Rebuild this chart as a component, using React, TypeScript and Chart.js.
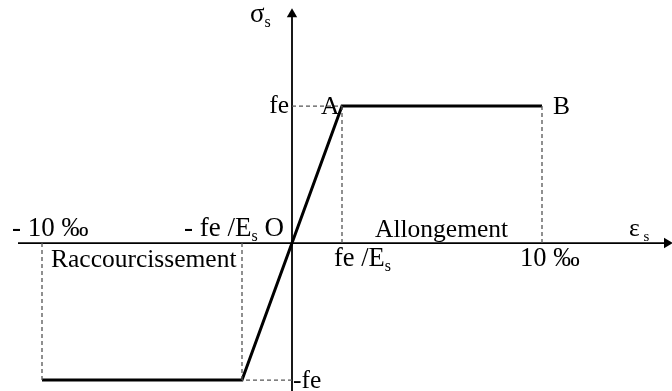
import React, { useEffect, useRef } from "react";
import { Chart, registerables } from "chart.js";

Chart.register(...registerables);

// Strain (‰) and stress (in units of fe) of the elastic–perfectly plastic steel law
const curveStrain = [-10, -2, 0, 2, 10];
const curveStress = [-1, -1, 0, 1, 1];

// dashed construction lines: verticals from the strain axis to the plateau
const guideStrain = [2, 10, -2, -10];
const guideStress = [1, 1, -1, -1];

// axes extent (data units)
const strainRange = [-11.68, 15.2];
const stressRange = [-1.08, 1.774];
const axisTips = [15.0, 1.67]; // arrow-head centres on ε and σ axes

const FONT = '"Liberation Serif", "Times New Roman", serif';

type Part = { t: string; sub?: boolean };

function drawRich(
  ctx: CanvasRenderingContext2D,
  parts: Part[],
  x: number,
  y: number,
  align: "left" | "right",
  size: number
) {
  const subSize = Math.round(size * 0.6);
  const widths = parts.map((p) => {
    ctx.font = `${p.sub ? subSize : size}px ${FONT}`;
    return ctx.measureText(p.t).width;
  });
  const total = widths.reduce((a, b) => a + b, 0);
  let cx = align === "left" ? x : x - total;
  ctx.textAlign = "left";
  ctx.textBaseline = "alphabetic";
  parts.forEach((p, i) => {
    ctx.font = `${p.sub ? subSize : size}px ${FONT}`;
    ctx.fillText(p.t, cx, p.sub ? y + Math.round(size * 0.18) : y);
    cx += widths[i];
  });
}

const labelPlugin = {
  id: "labels",
  afterDatasetsDraw(chart: any) {
    const { ctx } = chart;
    const xs = chart.scales.x;
    const ys = chart.scales.y;
    const X = (v: number) => xs.getPixelForValue(v);
    const Y = (v: number) => ys.getPixelForValue(v);
    const ox = X(0);
    const oy = Y(0);
    const S = 25.5;
    ctx.save();
    ctx.fillStyle = "#000";
    // σs
    drawRich(ctx, [{ t: "σ", }, { t: "s", sub: true }], ox - 42, Y(stressRange[1]) + 22, "left", 27);
    // fe, A, B
    drawRich(ctx, [{ t: "fe" }], ox - 3, Y(curveStress[4]) + 7, "right", S);
    drawRich(ctx, [{ t: "A" }], X(curveStrain[3]) - 21, Y(curveStress[4]) + 8, "left", S);
    drawRich(ctx, [{ t: "B" }], X(curveStrain[4]) + 11, Y(curveStress[4]) + 8, "left", S);
    // above strain axis
    drawRich(ctx, [{ t: "- 10 ‰" }], X(curveStrain[0]) - 30, oy - 7, "left", 27);
    drawRich(ctx, [{ t: "- fe /E" }, { t: "s", sub: true }, { t: " O" }], ox - 8, oy - 7, "right", 27);
    drawRich(ctx, [{ t: "Allongement" }], X(curveStrain[3]) + 33, oy - 6, "left", S);
    drawRich(ctx, [{ t: "ε" }, { t: " s", sub: true }], X(axisTips[0]) - 38, oy - 7, "left", S);
    // below strain axis
    drawRich(ctx, [{ t: "Raccourcissement" }], X(curveStrain[0]) + 9, oy + 24, "left", S);
    drawRich(ctx, [{ t: "fe /E" }, { t: "s", sub: true }], X(curveStrain[3]) - 8, oy + 23, "left", 26.5);
    drawRich(ctx, [{ t: "10 ‰" }], X(curveStrain[4]) - 22, oy + 23, "left", 26.5);
    // -fe
    drawRich(ctx, [{ t: "-fe" }], ox + 1, Y(curveStress[0]) + 8, "left", S);
    ctx.restore();
  },
};

export default function App() {
  const ref = useRef<HTMLCanvasElement | null>(null);

  useEffect(() => {
    if (!ref.current) return;
    const pts = (xs: number[], ys: number[]) => xs.map((x, i) => ({ x, y: ys[i] }));

    const guides: any[] = [];
    guideStrain.forEach((s, i) => {
      guides.push({ x: s, y: 0 }, { x: s, y: guideStress[i] }, { x: s, y: null });
    });
    // horizontal dashes from the σ axis to the yield points
    guides.push({ x: 0, y: curveStress[4] }, { x: curveStrain[3], y: curveStress[4] }, { x: 0, y: null });
    guides.push({ x: 0, y: curveStress[0] }, { x: curveStrain[1], y: curveStress[0] });

    const chart = new Chart(ref.current, {
      type: "scatter",
      data: {
        datasets: [
          {
            label: "guides",
            data: guides,
            showLine: true,
            spanGaps: false,
            borderColor: "#555",
            borderWidth: 1.3,
            borderDash: [4, 3],
            pointRadius: 0,
          },
          {
            label: "ε axis",
            data: [
              { x: strainRange[0] + 0.72, y: 0 },
              { x: axisTips[0], y: 0 },
            ],
            showLine: true,
            borderColor: "#000",
            borderWidth: 1.8,
            pointRadius: 0,
          },
          {
            label: "σ axis",
            data: [
              { x: 0, y: stressRange[0] },
              { x: 0, y: axisTips[1] },
            ],
            showLine: true,
            borderColor: "#000",
            borderWidth: 1.8,
            pointRadius: 0,
          },
          {
            label: "law",
            data: pts(curveStrain, curveStress),
            showLine: true,
            borderColor: "#000",
            borderWidth: 3,
            pointRadius: 0,
            borderJoinStyle: "miter",
          },
          {
            label: "arrows",
            data: [
              { x: axisTips[0], y: 0 },
              { x: 0, y: axisTips[1] },
            ],
            showLine: false,
            pointStyle: "triangle",
            pointRadius: 6,
            rotation: [90, 0] as any,
            backgroundColor: "#000",
            borderColor: "#000",
            borderWidth: 0,
          },
        ] as any,
      },
      options: {
        responsive: false,
        animation: false,
        devicePixelRatio: 1,
        layout: { padding: 0, autoPadding: false },
        clip: false as any,
        plugins: { legend: { display: false }, tooltip: { enabled: false } },
        scales: {
          x: { type: "linear", min: strainRange[0], max: strainRange[1], display: false },
          y: { type: "linear", min: stressRange[0], max: stressRange[1], display: false },
        },
      },
      plugins: [labelPlugin],
    });
    return () => chart.destroy();
  }, []);

  return (
    <div style={{ position: "fixed", left: 0, top: 0, width: 672, height: 391, background: "#fff" }}>
      <canvas ref={ref} width={672} height={391} style={{ width: 672, height: 391, display: "block" }} />
    </div>
  );
}
